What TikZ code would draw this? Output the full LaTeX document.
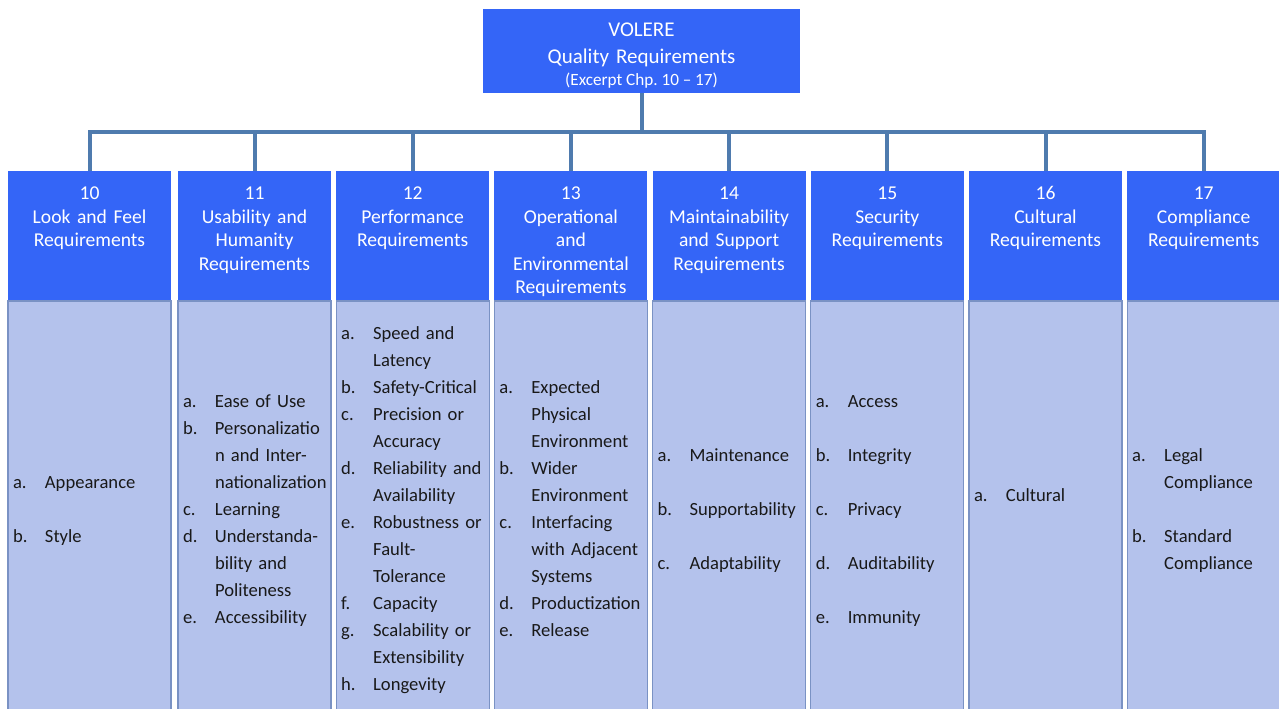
\documentclass[tikz,border=0pt]{standalone}
\usepackage{fontspec}
\setmainfont{Carlito}
\usetikzlibrary{positioning}
\definecolor{headblue}{RGB}{52,101,247}
\definecolor{bodyblue}{RGB}{180,194,236}
\definecolor{edgeblue}{RGB}{122,146,196}
\definecolor{linkblue}{RGB}{79,123,174}
\definecolor{itemgray}{RGB}{25,25,25}
\newcommand{\itm}[2]{\makebox[32pt][l]{#1}#2\strut}
\newcommand{\cnt}[1]{\hspace*{32pt}#1\strut}
\hyphenpenalty=10000
\exhyphenpenalty=10000
\frenchspacing
\tikzset{
  title/.style={fill=headblue, text=white, inner sep=0pt, align=center, text width=317pt,
    text height=27.5pt, text depth=56.5pt, font=\fontsize{21}{27}\selectfont},
  chapter/.style={fill=headblue, text=white, inner sep=0pt, align=center, text width=153pt,
    text height=28.5pt, text depth=101.5pt, font=\fontsize{19.6}{23.5}\selectfont},
  items/.style={fill=bodyblue, draw=edgeblue, line width=1.2pt, text=itemgray, inner xsep=5pt,
    inner ysep=0pt, align=left, text width=143pt, minimum height=418pt, font=\fontsize{18.6}{27}\selectfont},
  link/.style={draw=linkblue, line width=4pt}
}
\begin{document}
\begin{tikzpicture}[x=1pt, y=-1pt, node distance=158.2pt, on grid]
\useasboundingbox (0,0) rectangle (1279,709);
\node[title] (vol) at (641.5,51) {VOLERE\\Quality Requirements\\[-4.5pt]{\fontsize{17.2}{22.5}\selectfont\spaceskip=.22em(Excerpt Chp. 10 – 17)}};
% chapter heads
\node[chapter] (h11) at (254.5,236) {11\\Usability and\\Humanity\\Requirements};
\node[chapter, text width=163pt] (h10) [left=165pt of h11] {10\\Look and Feel\\Requirements};
\node[chapter] (h12) [right=of h11] {12\\Performance\\Requirements};
\node[chapter] (h13) [right=of h12] {13\\Operational\\and\\Environmental\\Requirements};
\node[chapter] (h14) [right=of h13] {14\\Maintainability\\and Support\\Requirements};
\node[chapter] (h15) [right=of h14] {15\\Security\\Requirements};
\node[chapter] (h16) [right=of h15] {16\\Cultural\\Requirements};
\node[chapter] (h17) [right=of h16] {17\\Compliance\\Requirements};
% item lists
\node[items, text width=153pt] (b10) [below=274pt of h10] {\itm{a.}{Appearance}\\[27pt]\itm{b.}{Style}};
\node[items] (b11) [below=274pt of h11] {\itm{a.}{Ease of Use}\\\itm{b.}{Personalizatio}\\\cnt{n and Inter-}\\\cnt{nationalization}\\\itm{c.}{Learning}\\\itm{d.}{Understanda-}\\\cnt{bility and}\\\cnt{Politeness}\\\itm{e.}{Accessibility}};
\node[items] (b12) [below=274pt of h12] {\itm{a.}{Speed and}\\\cnt{Latency}\\\itm{b.}{Safety-Critical}\\\itm{c.}{Precision or}\\\cnt{Accuracy}\\\itm{d.}{Reliability and}\\\cnt{Availability}\\\itm{e.}{Robustness or}\\\cnt{Fault-}\\\cnt{Tolerance}\\\itm{f.}{Capacity}\\\itm{g.}{Scalability or}\\\cnt{Extensibility}\\\itm{h.}{Longevity}};
\node[items] (b13) [below=274pt of h13] {\itm{a.}{Expected}\\\cnt{Physical}\\\cnt{Environment}\\\itm{b.}{Wider}\\\cnt{Environment}\\\itm{c.}{Interfacing}\\\cnt{with Adjacent}\\\cnt{Systems}\\\itm{d.}{Productization}\\\itm{e.}{Release}};
\node[items] (b14) [below=274pt of h14] {\itm{a.}{Maintenance}\\[27pt]\itm{b.}{Supportability}\\[27pt]\itm{c.}{Adaptability}};
\node[items] (b15) [below=274pt of h15] {\itm{a.}{Access}\\[27pt]\itm{b.}{Integrity}\\[27pt]\itm{c.}{Privacy}\\[27pt]\itm{d.}{Auditability}\\[27pt]\itm{e.}{Immunity}};
\node[items] (b16) [below=274pt of h16] {\itm{a.}{Cultural}\\\strut};
\node[items] (b17) [below=274pt of h17] {\itm{a.}{Legal}\\\cnt{Compliance}\\[27pt]\itm{b.}{Standard}\\\cnt{Compliance}};
% tree lines
\coordinate (bus) at (641.5,132);
\draw[link] (vol.south) -- (bus)
  (bus) -| (h10.north)
  (bus) -| (h11.north)
  (bus) -| (h12.north)
  (bus) -| (h13.north)
  (bus) -| (h14.north)
  (bus) -| (h15.north)
  (bus) -| (h16.north)
  (bus) -| (h17.north);
\end{tikzpicture}
\end{document}
